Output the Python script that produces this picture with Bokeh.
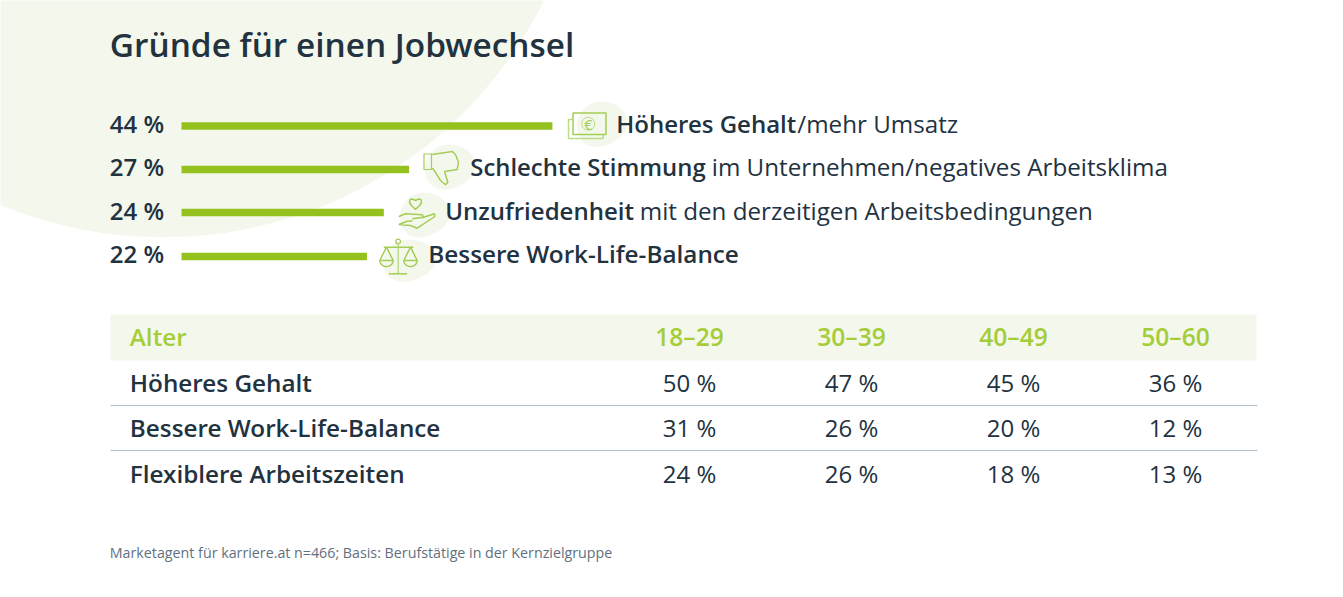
import numpy as np
from bokeh.plotting import figure
from bokeh.models import Range1d
from bokeh.core.properties import value
from bokeh.embed import file_html
from bokeh.resources import INLINE

title = "Gründe für einen Jobwechsel"
shares = [44, 27, 24, 22]
share_labels = ["44 %", "27 %", "24 %", "22 %"]
bold_labels = ["Höheres Gehalt", "Schlechte Stimmung", "Unzufriedenheit", "Bessere Work-Life-Balance"]
rest_labels = ["/mehr Umsatz", "im Unternehmen/negatives Arbeitsklima", "mit den derzeitigen Arbeitsbedingungen", ""]
age_groups = ["18–29", "30–39", "40–49", "50–60"]
table_rows = ["Höheres Gehalt", "Bessere Work-Life-Balance", "Flexiblere Arbeitszeiten"]
salary = [50, 47, 45, 36]
balance = [31, 26, 20, 12]
flexible = [24, 26, 18, 13]
footnote = "Marketagent für karriere.at n=466; Basis: Berufstätige in der Kernzielgruppe"

W, H = 1343, 597
DARK = "#22323f"
GREEN = "#95c11f"
ICON = "#a4cd55"
ICON2 = "#bcdc8c"
TINT = "#f4f8ec"
FONT = value("Open Sans")
MED = value("Open Sans SemiBold")

p = figure(width=W, height=H, output_backend="svg", toolbar_location=None,
           x_range=Range1d(0, W), y_range=Range1d(H, 0), min_border=0)
p.axis.visible = False
p.grid.visible = False
p.outline_line_color = None
p.extra_x_ranges["pct"] = Range1d(-181 / 8.43, (W - 181) / 8.43)

# background
p.ellipse(x=[162.5], y=[-188], width=[850], height=[850], fill_color=TINT, line_color=None)

def txt(x, y, s, size, color=DARK, font=FONT, align="left"):
    # y is the wanted baseline; the svg text sits about a third of an em above it
    dx = -0.7 if align == "left" else 0
    p.text(x=[x + dx], y=[y - 0.35 * size - 1.5], text=[s], text_font=font, text_font_size=f"{size}px",
           text_color=color, text_align=align, text_baseline="alphabetic")

txt(110, 56.5, title, 33.4, font=MED)

bar_y = [125.5, 169, 212, 256]
text_y = [133, 176, 219.5, 263]
p.hbar(y=bar_y, left=0, right=shares, height=7.5, x_range_name="pct", fill_color=GREEN, line_color=None)
for y, s in zip(text_y, share_labels):
    txt(110, y, s, 24, font=MED)

def blob(x0, x1, y0, y1):
    th = np.linspace(0, 2 * np.pi, 60)
    r = 1 + 0.07 * np.cos(2 * th + 0.8) + 0.03 * np.cos(3 * th)
    p.patch((x0 + x1) / 2 + (x1 - x0) / 2 * r * np.cos(th), (y0 + y1) / 2 + (y1 - y0) / 2 * r * np.sin(th),
            fill_color=TINT, line_color=None)

blob(577, 625, 100, 147)
blob(425, 473, 143, 190)
blob(400, 447, 191, 238)
blob(383, 433, 238, 282)

def line(xs, ys_, color=ICON, w=1.5):
    p.line(xs, ys_, line_color=color, line_width=w)

# money
line([572, 568, 568, 602.7, 602.7], [119, 119, 138, 138, 134], ICON2)
p.quad(left=[572.5], right=[605.5], top=[112.5], bottom=[134], fill_color=None, line_color=ICON, line_width=1.5)
p.circle(x=[587.7], y=[123.3], radius=6.5, fill_color=None, line_color=ICON2, line_width=1)
txt(587.7, 130.5, "€", 15, ICON, align="center")
# thumb
p.quad(left=[423.5], right=[431], top=[153.5], bottom=[169], fill_color=None, line_color=ICON, line_width=1.2)
line([431.7, 451.7, 455, 458, 456.7, 444, 447.3, 445, 440, 432.7, 431],
     [154, 151, 154, 161.7, 169, 171, 181.7, 184.3, 180, 168.3, 168.3], ICON)
# hand + heart
line([415, 412, 409.5, 409, 411, 415, 419, 421, 420.5, 418, 415],
     [200, 198.5, 199, 202, 205, 209, 205, 202, 199, 198.5, 200], ICON)
line([398.3, 405, 421.7, 423.3, 411.7], [216, 213.3, 214.3, 216.7, 218.3], ICON)
line([421.7, 434, 434.3, 416.7, 410, 398.3, 406.7, 412], [217.3, 213.3, 216, 227.7, 225, 224, 220.7, 220.5], ICON)
# scales
line([397.7, 397.7], [244, 273.3], ICON2)
line([388.3, 406.7], [273.3, 273.3], ICON)
line([383.3, 412.7], [246.7, 246.7], ICON)
p.circle(x=[397.7], y=[241], radius=2.3, fill_color=None, line_color=ICON, line_width=1.3)
for cx in (386, 410):
    th = np.linspace(0, np.pi, 14)
    line(cx + 6.7 * np.cos(th), 260 + 6 * np.sin(th), ICON)
    line([cx - 6.7, cx, cx + 6.7, cx - 6.7], [260, 246.7, 260, 260], ICON)

label_x = [616.5, 470.5, 445.5, 428.5]
label_size = [24, 23.9, 24, 24.3]
rest_x = [797.5, 712, 640, 0]
for x, y, b, r, rx, sz in zip(label_x, text_y, bold_labels, rest_labels, rest_x, label_size):
    txt(x, y, b, sz, font=MED)
    if r:
        txt(rx, y, r, 24.2, font=FONT)

# table
p.quad(left=[110], right=[1256], top=[314], bottom=[360], fill_color=TINT, line_color=None)
for y in (405, 450):
    p.segment(x0=[110], x1=[1257], y0=[y], y1=[y], line_color="#b3c2d1", line_width=1)
col_x = [689, 851, 1013, 1175]
row_y = [392, 437, 483]
HDR = "#a4cd39"
txt(130, 346, "Alter", 24.3, HDR, font=MED)
for x, g in zip(col_x, age_groups):
    txt(x, 346, g, 24.6, HDR, font=MED, align="center")
for y, name, vals in zip(row_y, table_rows, (salary, balance, flexible)):
    txt(130, y, name, 24.3, font=MED)
    for x, v in zip(col_x, vals):
        txt(x, y, f"{v} %", 24, align="center")

txt(110, 558, footnote, 14.25, "#5f7080")

open("out.html", "w").write(file_html(p, INLINE))
